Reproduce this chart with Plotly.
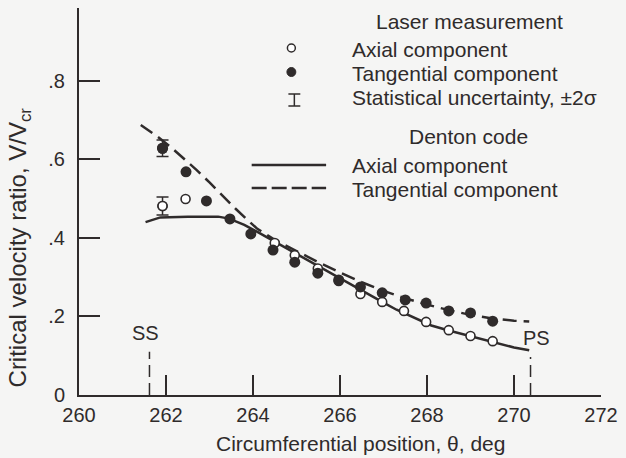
import plotly.graph_objects as go

# ---------------- data ----------------
theta_tan = [261.92, 262.46, 262.93, 263.47, 263.95, 264.46, 264.96, 265.49, 265.97,
             266.47, 266.97, 267.50, 267.98, 268.50, 269.00, 269.51]
v_tan = [0.628, 0.568, 0.494, 0.448, 0.410, 0.369, 0.338, 0.310, 0.293,
         0.275, 0.260, 0.242, 0.234, 0.214, 0.209, 0.188]

theta_ax = [261.92, 262.45, 264.50, 264.96, 265.49, 265.97, 266.47, 266.97,
            267.47, 267.98, 268.50, 269.00, 269.51]
v_ax = [0.481, 0.499, 0.387, 0.356, 0.322, 0.290, 0.257, 0.237,
        0.214, 0.186, 0.165, 0.150, 0.137]

# statistical uncertainty (+/- 2 sigma) on first points
unc_theta = [261.92]
unc_tan_err = [0.021]
unc_ax_err = [0.023]

# Denton code
theta_dax = [261.53, 261.87, 262.5, 263.2, 263.45, 263.8, 264.1, 264.5, 265.0, 265.5,
             266.0, 266.5, 267.0, 267.3, 267.7, 268.1, 268.5, 268.9, 269.3, 269.7,
             270.0, 270.35]
v_dax = [0.440, 0.452, 0.454, 0.454, 0.449, 0.433, 0.415, 0.390, 0.359, 0.327,
         0.296, 0.265, 0.235, 0.217, 0.196, 0.177, 0.164, 0.152, 0.141, 0.129,
         0.121, 0.114]

theta_dtan = [261.42, 261.8, 262.1, 262.4, 262.7, 263.0, 263.3, 263.6, 263.85, 264.1,
              264.5, 265.0, 265.5, 266.0, 266.5, 267.0, 267.5, 268.0, 268.5, 269.0,
              269.5, 270.0, 270.35]
v_dtan = [0.687, 0.658, 0.632, 0.603, 0.573, 0.541, 0.507, 0.474, 0.448, 0.423,
          0.395, 0.366, 0.338, 0.312, 0.287, 0.265, 0.246, 0.230, 0.216, 0.204,
          0.195, 0.189, 0.187]

# suction / pressure surface markers
ss_theta = 261.62
ps_theta = 270.38
ss_top = 0.11
ps_top = 0.097

x_ticks = [260, 262, 264, 266, 268, 270, 272]
y_ticks = [0, 0.2, 0.4, 0.6, 0.8]
y_ticktext = ["0", ".2", ".4", ".6", ".8"]

# ---------------- style ----------------
INK = "#2f2b2b"
BG = "#f5f5f4"
FONT = "Liberation Sans"
W, H = 626, 458
L, R, T, B = 79, 605, 8, 395


def px(x):
    return (x - L) / (R - L)


def py(y):
    return (B - y) / (B - T)


fig = go.Figure()

fig.add_trace(go.Scatter(x=theta_dax, y=v_dax, mode="lines",
                         line=dict(color=INK, width=2.5), showlegend=False))
fig.add_trace(go.Scatter(x=theta_dtan, y=v_dtan, mode="lines",
                         line=dict(color=INK, width=2.5, dash="14px,7px"), showlegend=False))

fig.add_trace(go.Scatter(x=[ss_theta, ss_theta], y=[0, ss_top], mode="lines",
                         line=dict(color=INK, width=1.5, dash="12px,6px"), showlegend=False))
fig.add_trace(go.Scatter(x=[ps_theta, ps_theta], y=[0, ps_top], mode="lines",
                         line=dict(color=INK, width=1.5, dash="12px,6px"), showlegend=False))

# error bars
fig.add_trace(go.Scatter(x=unc_theta, y=v_ax[:1], mode="markers",
                         marker=dict(size=9, color="white", line=dict(color=INK, width=1.6)),
                         error_y=dict(type="data", array=unc_ax_err, color=INK, thickness=1.5, width=6),
                         showlegend=False))
fig.add_trace(go.Scatter(x=unc_theta, y=v_tan[:1], mode="markers",
                         marker=dict(size=11, color=INK),
                         error_y=dict(type="data", array=unc_tan_err, color=INK, thickness=1.5, width=6),
                         showlegend=False))

fig.add_trace(go.Scatter(x=theta_ax, y=v_ax, mode="markers",
                         marker=dict(size=9, color="white", line=dict(color=INK, width=1.6)),
                         showlegend=False))
fig.add_trace(go.Scatter(x=theta_tan, y=v_tan, mode="markers",
                         marker=dict(size=11, color=INK), showlegend=False))

annotations = []
shapes = []


def text(x, y, s, anchor="left", size=21):
    annotations.append(dict(x=px(x), y=py(y), xref="paper", yref="paper", text=s,
                            showarrow=False, xanchor=anchor, yanchor="middle",
                            font=dict(family=FONT, size=size, color=INK)))


# legend
text(472, 22, "Laser measurement", "center")
text(352, 50, "Axial component")
text(352, 74, "Tangential component")
text(352, 98, "Statistical uncertainty, \u00b12\u03c3")
text(471, 136, "Denton code", "center")
text(352, 165, "Axial component")
text(352, 189, "Tangential component")

shapes.append(dict(type="circle", xref="paper", yref="paper",
                   x0=px(289), x1=px(297), y0=py(52), y1=py(44),
                   line=dict(color=INK, width=1.5), fillcolor="white"))
shapes.append(dict(type="circle", xref="paper", yref="paper",
                   x0=px(288.5), x1=px(297.5), y0=py(76.5), y1=py(67.5),
                   line=dict(color=INK, width=1), fillcolor=INK))
for seg in [((296, 94), (296, 106)), ((290, 94), (302, 94)), ((290, 106), (302, 106))]:
    shapes.append(dict(type="line", xref="paper", yref="paper",
                       x0=px(seg[0][0]), y0=py(seg[0][1]), x1=px(seg[1][0]), y1=py(seg[1][1]),
                       line=dict(color=INK, width=1.5)))
shapes.append(dict(type="line", xref="paper", yref="paper",
                   x0=px(253), x1=px(328), y0=py(165), y1=py(165),
                   line=dict(color=INK, width=2.5)))
shapes.append(dict(type="line", xref="paper", yref="paper",
                   x0=px(253), x1=px(328), y0=py(188), y1=py(188),
                   line=dict(color=INK, width=2.5, dash="15px,5px")))

# SS / PS labels
annotations.append(dict(x=261.53, y=0.158, xref="x", yref="y", text="SS", showarrow=False,
                        font=dict(family=FONT, size=20, color=INK)))
annotations.append(dict(x=270.52, y=0.145, xref="x", yref="y", text="PS", showarrow=False,
                        font=dict(family=FONT, size=20, color=INK)))

# axis titles
text(363, 443, "Circumferential position, \u03b8, deg", "center", 21)
annotations.append(dict(x=px(19), y=py(247), xref="paper", yref="paper",
                        text="Critical velocity ratio, V/V<sub>cr</sub>", textangle=-90,
                        showarrow=False, xanchor="center", yanchor="middle",
                        font=dict(family=FONT, size=24, color=INK)))

fig.update_layout(
    width=W, height=H,
    margin=dict(l=L, r=W - R, t=T, b=H - B, pad=0),
    paper_bgcolor=BG, plot_bgcolor=BG,
    showlegend=False,
    annotations=annotations, shapes=shapes,
    font=dict(family=FONT, size=20, color=INK),
)
fig.update_xaxes(range=[260, 272], tickvals=x_ticks, ticks="inside", ticklen=20,
                 tickwidth=1.8, tickcolor=INK, showline=True, linecolor=INK, linewidth=2,
                 showgrid=False, zeroline=False, ticklabelstandoff=1,
                 tickfont=dict(family=FONT, size=20, color=INK))
fig.update_yaxes(range=[0, 0.985], tickvals=y_ticks, ticktext=y_ticktext, ticks="inside",
                 ticklen=21, tickwidth=1.8, tickcolor=INK, showline=True, linecolor=INK,
                 linewidth=2, showgrid=False, zeroline=False, ticklabelstandoff=8,
                 tickfont=dict(family=FONT, size=20, color=INK))

fig.write_html("out.html")
